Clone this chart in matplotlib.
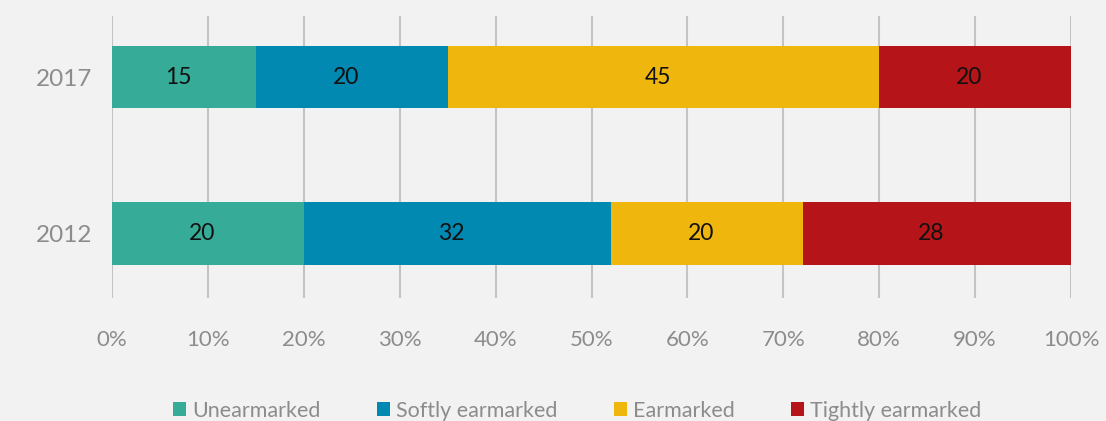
import matplotlib.pyplot as plt
from matplotlib.patches import Patch

years = ["2012", "2017"]
categories = ["Unearmarked", "Softly earmarked", "Earmarked", "Tightly earmarked"]
values = {
    "Unearmarked": [20, 15],
    "Softly earmarked": [32, 20],
    "Earmarked": [20, 45],
    "Tightly earmarked": [28, 20],
}
colors = ["#36ab97", "#0189b2", "#efb70e", "#b51518"]
ticks = [0, 10, 20, 30, 40, 50, 60, 70, 80, 90, 100]

plt.rcParams["font.family"] = ["Lato", "DejaVu Sans"]
bg = "#f2f2f2"
grey = "#8c8c8c"

fig = plt.figure(figsize=(11.06, 4.21), dpi=100, facecolor=bg)
ax = fig.add_axes([0.1013, 0.2922, 0.8671, 0.6698], facecolor=bg)

ypos = [0, 1]
left = [0, 0]
for cat, col in zip(categories, colors):
    vals = values[cat]
    ax.barh(ypos, vals, left=left, height=0.40, color=col, zorder=3)
    for y, l, v in zip(ypos, left, vals):
        # labels sit slightly left of segment centre in the original
        ax.text(l + v / 2 - 0.6, y, str(v), ha="center", va="center",
                fontsize=16.5, color="#111111", zorder=4)
    left = [a + b for a, b in zip(left, vals)]

ax.set_xlim(0, 100)
ax.set_ylim(-0.41, 1.39)
ax.set_xticks(ticks)
ax.set_xticklabels([f"{t}%" for t in ticks])
ax.set_yticks(ypos)
ax.set_yticklabels(years)
ax.tick_params(axis="x", length=0, pad=23, labelsize=16, labelcolor=grey)
ax.tick_params(axis="y", length=0, pad=14, labelsize=17.5, labelcolor=grey)
ax.grid(axis="x", color="#c4c4c4", linewidth=1.5, zorder=0)
ax.grid(axis="y", visible=False)
for s in ax.spines.values():
    s.set_visible(False)

handles = [Patch(facecolor=c, label=n) for n, c in zip(categories, colors)]
fig.legend(handles=handles, loc="center", bbox_to_anchor=(0.522, 0.024), ncol=4,
           frameon=False, fontsize=15.5, labelcolor=grey, handlelength=0.6,
           handleheight=0.6, handletextpad=0.3, columnspacing=2.6)

fig.savefig("out.png", dpi=100, facecolor=bg)
